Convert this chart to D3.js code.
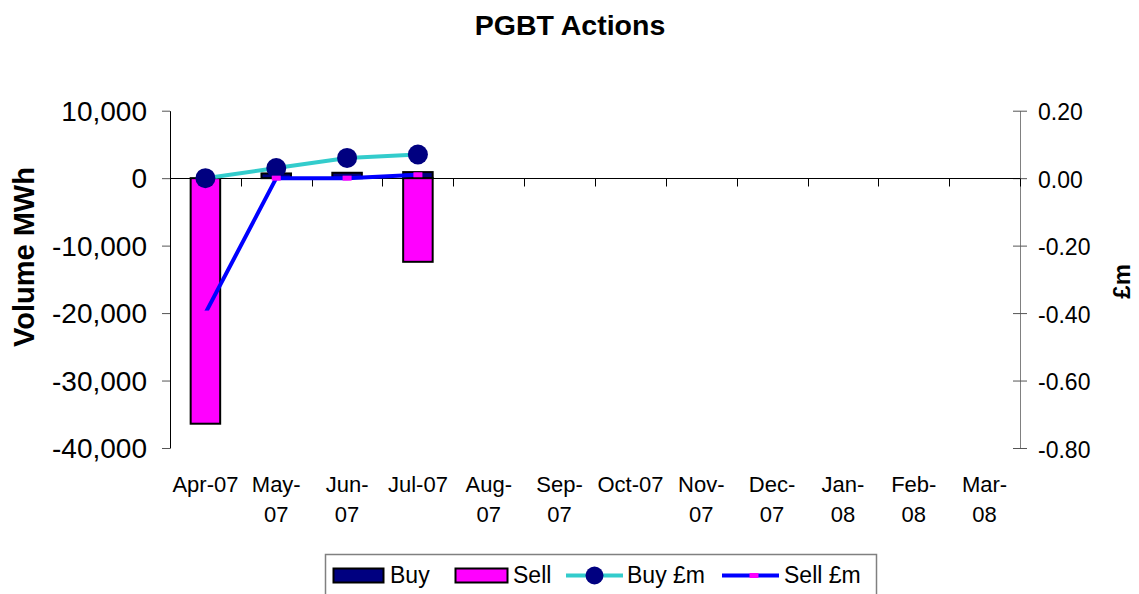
<!DOCTYPE html>
<html>
<head>
<meta charset="utf-8">
<script src="https://cdn.jsdelivr.net/npm/d3@7"></script>
<style>
  body { margin: 0; background: #fff; }
  svg { display: block; font-family: 'Liberation Sans', Arial, sans-serif; }
</style>
</head>
<body>
<div id="chart"></div>
<script>
(function() {
    'use strict';

    // data
    var months = ['Apr-07', 'May-07', 'Jun-07', 'Jul-07', 'Aug-07', 'Sep-07',
                  'Oct-07', 'Nov-07', 'Dec-07', 'Jan-08', 'Feb-08', 'Mar-08'];
    // how each category label is broken into lines (as in the picture)
    var monthLabels = [['Apr-07'], ['May-', '07'], ['Jun-', '07'], ['Jul-07'],
                       ['Aug-', '07'], ['Sep-', '07'], ['Oct-07'], ['Nov-', '07'],
                       ['Dec-', '07'], ['Jan-', '08'], ['Feb-', '08'], ['Mar-', '08']];
    var buyVolume  = [0, 700, 800, 900, null, null, null, null, null, null, null, null];
    var sellVolume = [-36400, 0, 0, -12400, null, null, null, null, null, null, null, null];
    var buyCost    = [0, 0.03, 0.06, 0.07, null, null, null, null, null, null, null, null];
    var sellCost   = [-0.40, 0, 0, 0.01, null, null, null, null, null, null, null, null];
    var volumeTicks = [10000, 0, -10000, -20000, -30000, -40000];
    var costTicks   = [0.2, 0, -0.2, -0.4, -0.6, -0.8];

    var fullWidth = 1139, fullHeight = 594;
    var area = { left: 170, right: 1020, top: 110.7, bottom: 448 };

    var svg = d3.select('#chart').append('svg')
      .attr('width', fullWidth)
      .attr('height', fullHeight);

    var x = d3.scaleBand()
      .domain(months)
      .range([area.left, area.right])
      .padding(0);

    var yL = d3.scaleLinear()
      .domain([-40000, 10000])
      .range([area.bottom, area.top]);

    var yR = d3.scaleLinear()
      .domain([-0.8, 0.2])
      .range([area.bottom, area.top]);

    var barW = x.bandwidth() / 2.4; // gap width 140%
    function cx(i) { return x(months[i]) + x.bandwidth() / 2; }

    // plain hyphen instead of the unicode minus
    function hyphen(fmt) {
        var f = d3.format(fmt);
        return function(d) { return f(d).replace('\u2212', '-'); };
    }

    // title
    svg.append('text')
      .attr('x', 570).attr('y', 35)
      .attr('text-anchor', 'middle')
      .style('font-weight', 'bold').style('font-size', '28.5px')
      .text('PGBT Actions');

    // left axis
    var axL = svg.append('g')
      .attr('transform', 'translate(' + area.left + ',0)')
      .call(d3.axisLeft(yL).tickValues(volumeTicks).tickSize(8).tickSizeOuter(0)
        .tickPadding(15).tickFormat(hyphen(',')));
    axL.select('.domain').attr('stroke', '#000');
    axL.selectAll('.tick line').attr('stroke', '#555');
    axL.selectAll('text').style('font-size', '28px').attr('dy', '0.35em')
      .attr('fill', '#000').style('font-family', 'Liberation Sans, Arial, sans-serif');

    // right axis
    var axR = svg.append('g')
      .attr('transform', 'translate(' + area.right + ',0)')
      .call(d3.axisRight(yR).tickValues(costTicks).tickSize(7).tickSizeOuter(0)
        .tickPadding(11).tickFormat(hyphen('.2f')));
    axR.select('.domain').attr('stroke', '#808080');
    axR.selectAll('.tick line').attr('x1', -7).attr('stroke', '#555');
    axR.selectAll('text').style('font-size', '23px').attr('dy', '0.4em')
      .attr('fill', '#000').style('font-family', 'Liberation Sans, Arial, sans-serif');

    // axis titles
    svg.append('text')
      .attr('transform', 'translate(34,257) rotate(-90)')
      .attr('text-anchor', 'middle')
      .style('font-weight', 'bold').style('font-size', '29px')
      .text('Volume MWh');

    svg.append('text')
      .attr('transform', 'translate(1130,' + ((area.top + area.bottom) / 2 + 2) + ') rotate(-90)')
      .attr('text-anchor', 'middle')
      .style('font-weight', 'bold').style('font-size', '24px')
      .text('£m');

    // bars (stacked: buy up, sell down)
    var bars = svg.append('g').attr('class', 'bars');
    [[buyVolume, '#000080'], [sellVolume, '#FF00FF']].forEach(function(s) {
        bars.selectAll(null)
          .data(s[0].map(function(v, i) { return { v: v, i: i }; })
            .filter(function(d) { return d.v !== null && d.v !== 0; }))
          .enter().append('rect')
            .attr('x', function(d) { return cx(d.i) - barW / 2; })
            .attr('y', function(d) { return Math.min(yL(d.v), yL(0)); })
            .attr('width', barW)
            .attr('height', function(d) { return Math.abs(yL(d.v) - yL(0)); })
            .attr('fill', s[1])
            .attr('stroke', '#000')
            .attr('stroke-width', 2);
    });

    // category axis along zero
    var y0 = Math.round(yL(0)) + 0.5;
    svg.append('line')
      .attr('x1', area.left).attr('x2', area.right)
      .attr('y1', y0).attr('y2', y0)
      .attr('stroke', '#000').attr('stroke-width', 1);
    svg.append('g').selectAll('line')
      .data(months)
      .enter().append('line')
        .attr('x1', function(d) { return Math.round(x(d) + x.bandwidth()) + 0.5; })
        .attr('x2', function(d) { return Math.round(x(d) + x.bandwidth()) + 0.5; })
        .attr('y1', y0).attr('y2', y0 + 8)
        .attr('stroke', '#000');

    // category labels
    var lab = svg.append('g').selectAll('text')
      .data(monthLabels)
      .enter().append('text')
        .attr('text-anchor', 'middle')
        .style('font-size', '22px')
        .attr('transform', function(d, i) {
            return 'translate(' + cx(i) + ',' + (area.bottom + 44) + ')';
        });
    lab.selectAll('tspan')
      .data(function(d) { return d; })
      .enter().append('tspan')
        .attr('x', 0)
        .attr('y', function(d, i) { return i * 30; })
        .text(function(d) { return d; });

    // lines
    var line = d3.line()
      .defined(function(d) { return d !== null; })
      .x(function(d, i) { return cx(i); })
      .y(function(d) { return yR(d); });

    svg.append('path')
      .attr('d', line(buyCost))
      .attr('fill', 'none')
      .attr('stroke', '#33CCCC')
      .attr('stroke-width', 4)
      .attr('stroke-linejoin', 'round');

    svg.append('g').selectAll('circle')
      .data(buyCost.map(function(v, i) { return { v: v, i: i }; })
        .filter(function(d) { return d.v !== null; }))
      .enter().append('circle')
        .attr('cx', function(d) { return cx(d.i); })
        .attr('cy', function(d) { return yR(d.v); })
        .attr('r', 10)
        .attr('fill', '#000080');

    svg.append('path')
      .attr('d', line(sellCost))
      .attr('fill', 'none')
      .attr('stroke', '#0000FF')
      .attr('stroke-width', 4)
      .attr('stroke-linejoin', 'round');

    svg.append('g').selectAll('rect')
      .data(sellCost.map(function(v, i) { return { v: v, i: i }; })
        .filter(function(d) { return d.v !== null; }))
      .enter().append('rect')
        .attr('x', function(d) { return cx(d.i) - 4.5; })
        .attr('y', function(d) { return yR(d.v) - 2.5; })
        .attr('width', 9).attr('height', 5)
        .attr('fill', '#FF00FF');

    // legend
    var legend = svg.append('g').attr('class', 'legend');
    legend.append('rect')
      .attr('x', 325.5).attr('y', 554.5)
      .attr('width', 551).attr('height', 60)
      .attr('fill', '#fff')
      .attr('stroke', '#808080').attr('stroke-width', 1.5);

    var ly = 575.5;
    legend.append('rect').attr('x', 333.5).attr('y', 568.5).attr('width', 50).attr('height', 14)
      .attr('fill', '#000080').attr('stroke', '#000').attr('stroke-width', 2);
    legend.append('rect').attr('x', 455.5).attr('y', 568.5).attr('width', 52).attr('height', 14)
      .attr('fill', '#FF00FF').attr('stroke', '#000').attr('stroke-width', 2);
    legend.append('line').attr('x1', 566).attr('x2', 623).attr('y1', ly).attr('y2', ly)
      .attr('stroke', '#33CCCC').attr('stroke-width', 4);
    legend.append('circle').attr('cx', 594.5).attr('cy', ly).attr('r', 9).attr('fill', '#000080');
    legend.append('line').attr('x1', 722).attr('x2', 779).attr('y1', ly).attr('y2', ly)
      .attr('stroke', '#0000FF').attr('stroke-width', 4);
    legend.append('rect').attr('x', 749.5).attr('y', ly - 2.5).attr('width', 9).attr('height', 5)
      .attr('fill', '#FF00FF');

    [['Buy', 390], ['Sell', 513], ['Buy £m', 627], ['Sell £m', 784]].forEach(function(t) {
        legend.append('text')
          .attr('x', t[1]).attr('y', 583)
          .style('font-size', '23px')
          .text(t[0]);
    });

})();
</script>
</body>
</html>
